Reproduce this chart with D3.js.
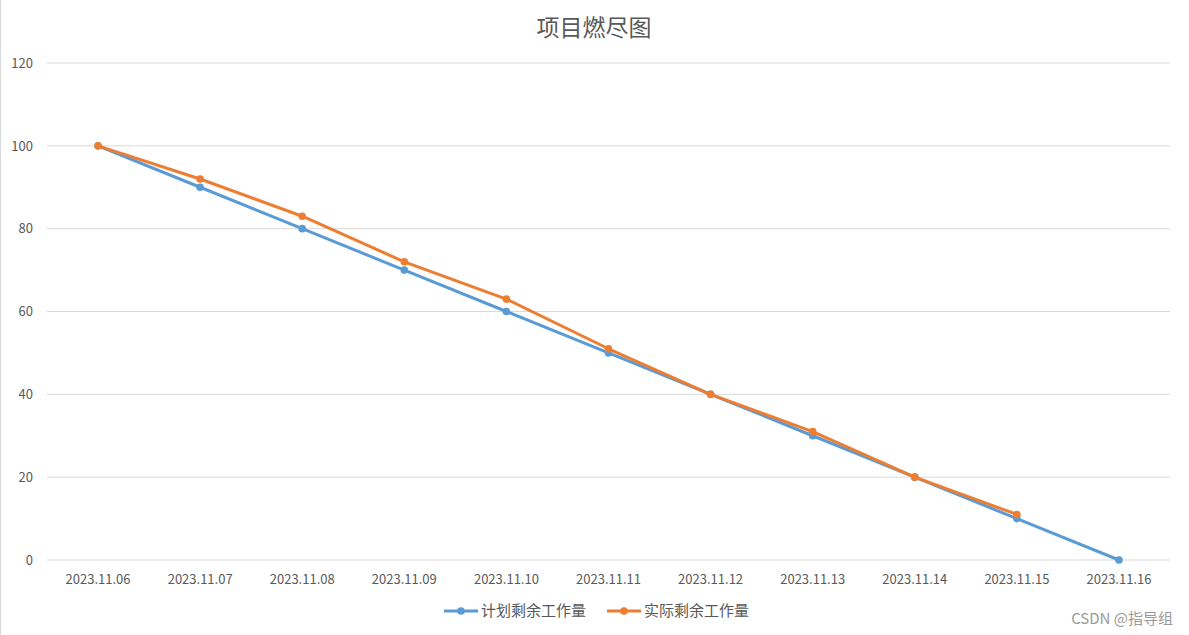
<!DOCTYPE html>
<html><head><meta charset="utf-8">
<script src="https://cdn.jsdelivr.net/npm/d3@7"></script>
<style>body{margin:0;background:#fff;} svg{display:block;}</style>
</head><body>
<svg id="chart" width="1189" height="635"></svg>
<script>
const categories = ["2023.11.06","2023.11.07","2023.11.08","2023.11.09","2023.11.10","2023.11.11","2023.11.12","2023.11.13","2023.11.14","2023.11.15","2023.11.16"];
const planned = [100,90,80,70,60,50,40,30,20,10,0];
const actual = [100,92,83,72,63,51,40,31,20,11];
const yTicks = [0,20,40,60,80,100,120];
const seriesNames = ["计划剩余工作量","实际剩余工作量"];
const colors = ["#5B9BD5","#ED7D31"];

const font = "'Microsoft YaHei','Noto Sans CJK SC','DejaVu Sans',sans-serif";
const svg = d3.select("#chart");
const W = 1189, H = 635;
const m = {left:47, right:19, top:63, bottom:75};

svg.append("rect").attr("x",0.5).attr("y",-1).attr("width",W+2).attr("height",H+2)
  .attr("fill","#fff").attr("stroke","#d9d9d9");

const x = d3.scaleBand().domain(categories).range([m.left, W-m.right]);
const y = d3.scaleLinear().domain([0,120]).range([H-m.bottom, m.top]);

// gridlines
svg.append("g").selectAll("line").data(yTicks).join("line")
  .attr("x1",m.left).attr("x2",W-m.right)
  .attr("y1",d=>y(d)).attr("y2",d=>y(d))
  .attr("stroke","#d9d9d9").attr("stroke-width",1);

// y axis
const yAxis = svg.append("g").attr("transform",`translate(${m.left},0)`)
  .call(d3.axisLeft(y).tickValues(yTicks).tickSize(0).tickPadding(14));
yAxis.select(".domain").remove();
yAxis.selectAll("text").attr("fill","#595959").style("font-size","13px").style("font-family",font);

// x axis
const xAxis = svg.append("g").attr("transform",`translate(0,${H-m.bottom})`)
  .call(d3.axisBottom(x).tickSize(0).tickPadding(15));
xAxis.select(".domain").remove();
xAxis.selectAll("text").attr("fill","#595959").style("font-size","13px").style("font-family",font);

const cx = d => x(d) + x.bandwidth()/2;
const line = d3.line().x((d,i)=>cx(categories[i])).y(d=>y(d));

[planned, actual].forEach((s,k)=>{
  const g = svg.append("g");
  g.append("path").datum(s).attr("d",line).attr("fill","none")
    .attr("stroke",colors[k]).attr("stroke-width",3).attr("stroke-linejoin","round");
  g.selectAll("circle").data(s).join("circle")
    .attr("cx",(d,i)=>cx(categories[i])).attr("cy",d=>y(d)).attr("r",3.8)
    .attr("fill",colors[k]);
});

// title
svg.append("text").attr("x",594).attr("y",36).attr("text-anchor","middle")
  .attr("fill","#595959").style("font-size","23px").style("font-family",font).text("项目燃尽图");

// legend
const lg = svg.append("g");
const legendX = [444, 607];
seriesNames.forEach((n,k)=>{
  const gx = legendX[k], gy = 611;
  lg.append("line").attr("x1",gx).attr("x2",gx+34).attr("y1",gy).attr("y2",gy)
    .attr("stroke",colors[k]).attr("stroke-width",3);
  lg.append("circle").attr("cx",gx+17).attr("cy",gy).attr("r",3.8).attr("fill",colors[k]);
  lg.append("text").attr("x",gx+37).attr("y",gy+5).attr("fill","#595959")
    .style("font-size","15px").style("font-family",font).text(n);
});

// watermark
svg.append("text").attr("x",1173).attr("y",624).attr("text-anchor","end")
  .attr("fill","#9a9a9a").style("font-size","15px").style("font-family",font).text("CSDN @指导组");
</script>
</body></html>
